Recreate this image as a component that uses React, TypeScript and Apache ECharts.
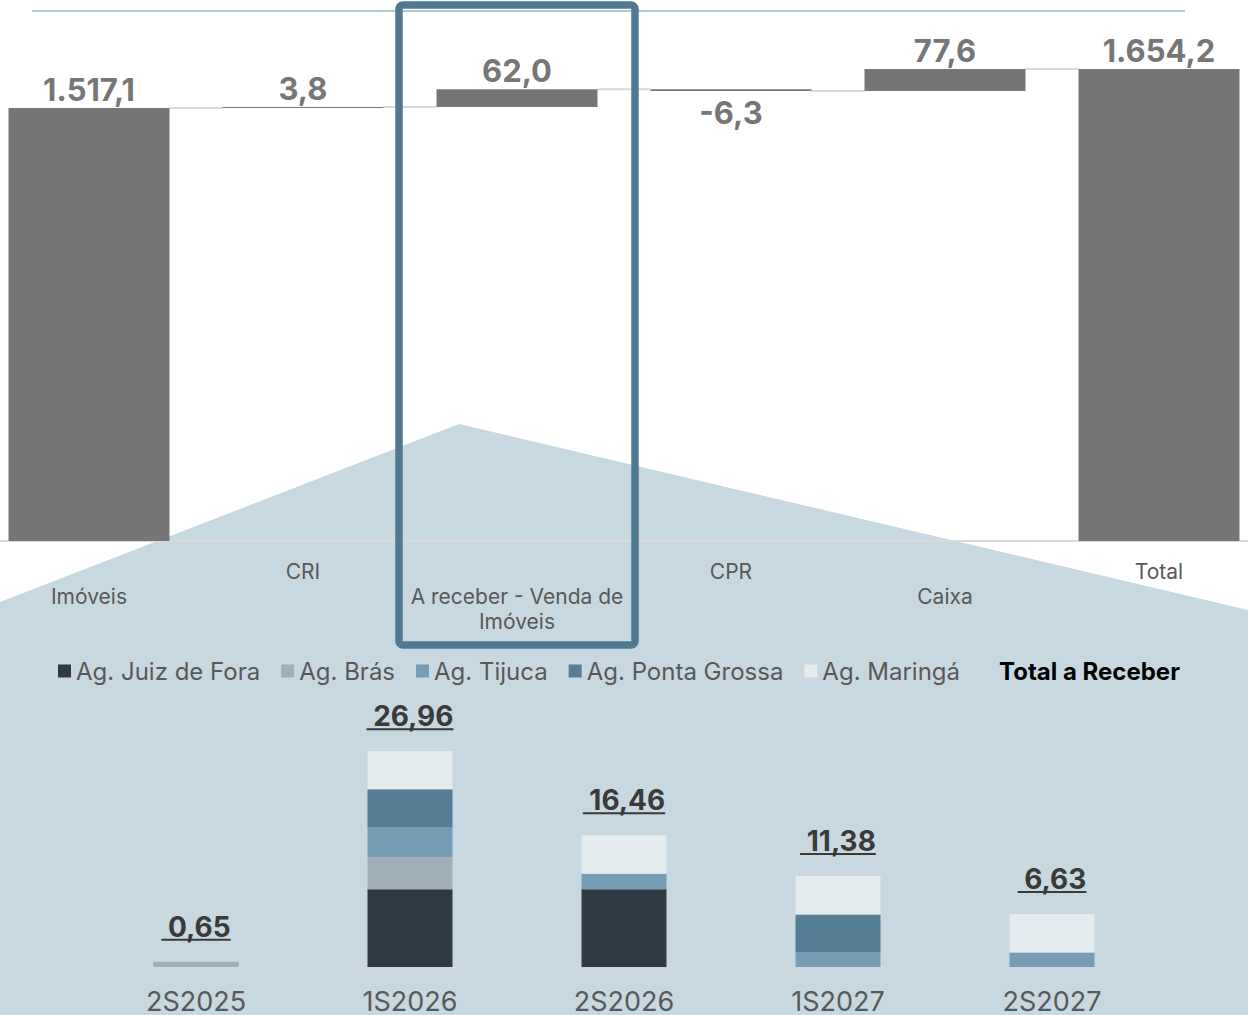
import React, { useEffect, useRef } from "react";
import * as echarts from "echarts";

// ---- Waterfall data (top) ----
const wfCategories = ["Imóveis", "CRI", "A receber - Venda de Imóveis", "CPR", "Caixa", "Total"];
const wfDeltas = [1517.1, 3.8, 62.0, -6.3, 77.6];
const wfTotal = 1654.2;

// ---- Stacked data (bottom) ----
const periods = ["2S2025", "1S2026", "2S2026", "1S2027", "2S2027"];
const juizDeFora = [0, 9.7, 9.7, 0, 0];
const bras = [0.65, 4.03, 0, 0, 0];
const tijuca = [0, 3.7, 1.95, 1.8, 1.8];
const pontaGrossa = [0, 4.77, 0, 4.77, 0];
const maringa = [0, 4.76, 4.81, 4.81, 4.83];
const totals = [0.65, 26.96, 16.46, 11.38, 6.63];

const seriesNames = ["Ag. Juiz de Fora", "Ag. Brás", "Ag. Tijuca", "Ag. Ponta Grossa", "Ag. Maringá"];
const seriesColors = ["#2f3b42", "#a0afb6", "#759eb6", "#557e97", "#e5ecf0"];

const FONT = "Inter, 'Noto Sans', sans-serif";
// the chart canvas starts 18px left of the page so the first category band fits
const OX = 18;

function fmtBR(v: number, d: number) {
  const s = Math.abs(v).toFixed(d);
  const [ip, dp] = s.split(".");
  const withDots = ip.replace(/\B(?=(\d{3})+(?!\d))/g, ".");
  return (v < 0 ? "-" : "") + withDots + (dp ? "," + dp : "");
}

let measureCtx: CanvasRenderingContext2D | null = null;
function measure(t: string, font: string) {
  if (!measureCtx) measureCtx = document.createElement("canvas").getContext("2d");
  if (!measureCtx) return t.length * 16;
  measureCtx.font = font;
  return measureCtx.measureText(t).width;
}

export default function App() {
  const ref = useRef<HTMLDivElement>(null);

  useEffect(() => {
    if (!ref.current) return;
    const chart = echarts.init(ref.current, undefined, { renderer: "svg" });

    const cumEnds: number[] = [];
    let run = 0;
    wfDeltas.forEach((d) => {
      run += d;
      cumEnds.push(run);
    });
    const baseVals = wfDeltas.map((d, i) => {
      const start = i === 0 ? 0 : cumEnds[i - 1];
      return d >= 0 ? start : start + d;
    });
    baseVals.push(0);
    const barVals = wfDeltas.map((d) => Math.abs(d)).concat([wfTotal]);
    const labelVals = wfDeltas.concat([wfTotal]);

    const stackData = [juizDeFora, bras, tijuca, pontaGrossa, maringa];
    const totalFont = `bold 28px ${FONT}`;

    const option: any = {
      animation: false,
      graphic: {
        elements: [
          {
            type: "polygon",
            z: -10,
            silent: true,
            shape: {
              points: [
                [459 + OX, 424],
                [1248 + OX, 610],
                [1248 + OX, 1015],
                [0 + OX, 1015],
                [0 + OX, 602],
              ],
            },
            style: { fill: "#c8d8e0" },
          },
          {
            type: "line",
            z: -5,
            silent: true,
            shape: { x1: 32 + OX, y1: 11, x2: 1185 + OX, y2: 11 },
            style: { stroke: "#aecad3", lineWidth: 2 },
          },
          {
            type: "rect",
            z: 100,
            silent: true,
            shape: { x: 399 + OX, y: 5, width: 236, height: 640, r: 4 },
            style: { fill: "none", stroke: "#4f7891", lineWidth: 7.5 },
          },
        ],
      },
      legend: {
        left: 53 + OX,
        top: 654,
        itemWidth: 13,
        itemHeight: 13,
        itemGap: 21,
        icon: "rect",
        selectedMode: false,
        textStyle: { fontSize: 24, color: "#595959", fontFamily: FONT },
        data: [
          ...seriesNames,
          {
            name: "Total a Receber",
            icon: "none",
            textStyle: { fontWeight: "bold", color: "#000000", fontSize: 24, fontFamily: FONT },
          },
        ],
      },
      grid: [
        { left: 0, width: 1284, top: 27.3, height: 513.7 },
        { left: 89 + OX, width: 1070, top: 726.8, height: 243.2 },
      ],
      xAxis: [
        {
          type: "category",
          gridIndex: 0,
          data: wfCategories,
          axisLine: { lineStyle: { color: "#d9d9d9", width: 2 } },
          axisTick: { show: false },
          axisLabel: {
            interval: 0,
            margin: 18,
            fontSize: 21,
            lineHeight: 25,
            color: "#595959",
            fontFamily: FONT,
            formatter: (v: string, i: number) =>
              (i % 2 === 0 ? "\n" : "") + v.replace(" de Imóveis", " de\nImóveis"),
          },
        },
        {
          type: "category",
          gridIndex: 1,
          data: periods,
          axisLine: { lineStyle: { color: "#d6d6d6", width: 2 } },
          axisTick: { show: false },
          axisLabel: { margin: 21, fontSize: 27, color: "#595959", fontFamily: FONT },
        },
      ],
      yAxis: [
        { type: "value", gridIndex: 0, min: 0, max: 1800, show: false },
        { type: "value", gridIndex: 1, min: 0, max: 30, show: false },
      ],
      series: [
        {
          name: "wfBase",
          type: "bar",
          xAxisIndex: 0,
          yAxisIndex: 0,
          stack: "wf",
          barWidth: 161,
          silent: true,
          itemStyle: { color: "transparent" },
          data: baseVals,
        },
        {
          name: "wfValue",
          type: "bar",
          xAxisIndex: 0,
          yAxisIndex: 0,
          stack: "wf",
          barWidth: 161,
          itemStyle: { color: "#767676" },
          label: {
            show: true,
            fontSize: 31,
            fontWeight: "bold",
            color: "#767676",
            fontFamily: FONT,
            formatter: (p: any) => fmtBR(labelVals[p.dataIndex], 1),
          },
          data: barVals.map((v, i) => ({
            value: v,
            label: labelVals[i] < 0 ? { position: "bottom", distance: 6 } : { position: "top", distance: 3 },
          })),
        },
        {
          name: "wfConnectors",
          type: "custom",
          xAxisIndex: 0,
          yAxisIndex: 0,
          silent: true,
          z: 1,
          data: cumEnds.map((v, i) => [i, v]),
          renderItem: (params: any, api: any) => {
            const i = api.value(0);
            const v = api.value(1);
            const p1 = api.coord([i, v]);
            const p2 = api.coord([i + 1, v]);
            const hw = (api.size([1, 0])[0] * 0.75) / 2;
            return {
              type: "line",
              shape: { x1: p1[0] + hw, y1: p1[1], x2: p2[0] - hw, y2: p2[1] },
              style: { stroke: "#d9d9d9", lineWidth: 2 },
            };
          },
        },
        ...seriesNames.map((name, k) => ({
          name,
          type: "bar",
          xAxisIndex: 1,
          yAxisIndex: 1,
          stack: "recv",
          barWidth: 85,
          itemStyle: { color: seriesColors[k] },
          data: stackData[k],
        })),
        {
          name: "Total a Receber",
          type: "custom",
          xAxisIndex: 1,
          yAxisIndex: 1,
          silent: true,
          itemStyle: { color: "#000000" },
          data: totals.map((v, i) => [i, v]),
          renderItem: (params: any, api: any) => {
            const i = api.value(0);
            const v = api.value(1);
            const p = api.coord([i, v]);
            const txt = fmtBR(v, 2);
            const w = measure(" " + txt, totalFont);
            const right = p[0] + w / 2;
            const uy = p[1] - 22;
            return {
              type: "group",
              children: [
                {
                  type: "text",
                  style: {
                    text: txt,
                    x: right,
                    y: p[1] - 35,
                    align: "right",
                    verticalAlign: "middle",
                    fill: "#3a3a3a",
                    fontSize: 28,
                    fontWeight: "bold",
                    fontFamily: FONT,
                  },
                },
                {
                  type: "line",
                  shape: { x1: p[0] - w / 2, y1: uy, x2: right, y2: uy },
                  style: { stroke: "#3a3a3a", lineWidth: 2 },
                },
              ],
            };
          },
        },
      ],
    };

    chart.setOption(option);
    return () => chart.dispose();
  }, []);

  return (
    <div
      ref={ref}
      style={{ position: "fixed", left: -OX, top: 0, width: 1248 + 2 * OX, height: 1015, background: "#ffffff" }}
    />
  );
}
